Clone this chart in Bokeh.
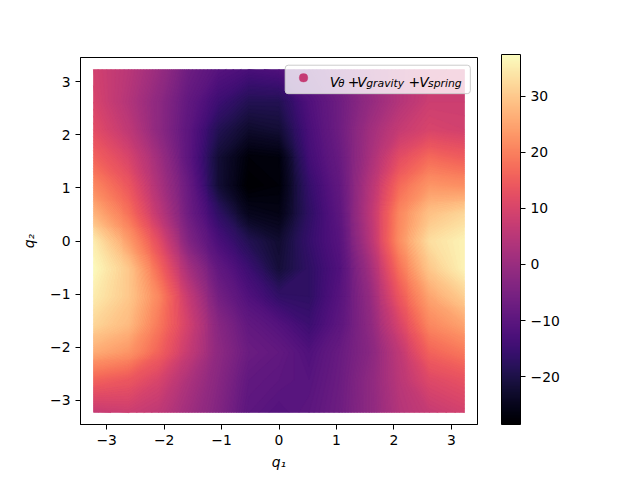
import numpy as np
from bokeh.plotting import figure
from bokeh.models import (LinearColorMapper, ColorBar, FixedTicker, Range1d, Label,
                          ColumnDataSource, BoxAnnotation)
from bokeh.palettes import Magma256
from bokeh.embed import file_html
from bokeh.resources import INLINE

# grid coordinates (radians)
q1_vals = [-3.1416, -2.618, -2.0944, -1.5708, -1.0472, -0.5236, 0.0,
           0.5236, 1.0472, 1.5708, 2.0944, 2.618, 3.1416]
q2_vals = [-3.1416, -2.618, -2.0944, -1.5708, -1.0472, -0.5236, 0.0,
           0.5236, 1.0472, 1.5708, 2.0944, 2.618, 3.1416]

# potential V_theta + V_gravity + V_spring, rows = q2 (bottom -> top), cols = q1
row_q2_m3_14 = [7, 8, 6, 1, -4, -10, -11.5, -10, -7, -2, 4, 7, 9]
row_q2_m2_62 = [16, 14, 10, 3, -3, -9, -10, -11, -7.5, -2, 5, 11, 13]
row_q2_m2_09 = [26, 23, 16, 7, -2, -7.5, -9, -12, -8, -3, 6, 16, 19]
row_q2_m1_57 = [32, 28, 19, 9, -3, -9, -11.5, -15, -10, -2, 10, 21, 25]
row_q2_m1_05 = [35, 30, 21, 7, -6, -12, -16.5, -17, -11, -1, 14, 25, 31]
row_q2_m0_52 = [37, 30, 17, 2, -9, -15, -21.5, -17, -12, 1, 18, 30, 36]
row_q2_0_00 = [35, 24, 12, -4, -13, -19, -22.5, -16, -11, 4, 22, 33, 36]
row_q2_p0_52 = [27, 18, 6, -7, -17, -25, -26, -17, -10, 5, 21, 29, 32]
row_q2_p1_05 = [21, 14, 3, -8, -22, -28.5, -27.5, -16, -9, 4, 17, 23, 22]
row_q2_p1_57 = [16, 10, 1, -10, -22, -27.5, -27, -14, -8, 2, 12, 17, 15]
row_q2_p2_09 = [12, 6, -2, -10, -19, -23, -22, -13, -7, 1, 7, 10, 9]
row_q2_p2_62 = [10, 4, -2, -9, -15, -19, -19, -12, -7, -1, 4, 8, 8]
row_q2_p3_14 = [9, 5, 0, -7, -11, -13, -12, -9, -5, 0, 4, 7, 8]

V = np.array([row_q2_m3_14, row_q2_m2_62, row_q2_m2_09, row_q2_m1_57,
              row_q2_m1_05, row_q2_m0_52, row_q2_0_00, row_q2_p0_52,
              row_q2_p1_05, row_q2_p1_57, row_q2_p2_09, row_q2_p2_62,
              row_q2_p3_14], dtype=float)

cbar_ticks = [-20, -10, 0, 10, 20, 30]
axis_ticks = [-3, -2, -1, 0, 1, 2, 3]

FONT = "DejaVu Sans"
FS = "13.9px"
SUB = "10.8px"

vmin, vmax = -28.5, 37.4
mapper = LinearColorMapper(palette=Magma256, low=vmin, high=vmax)


def magma(v):
    i = int(round((v - vmin) / (vmax - vmin) * 255))
    return Magma256[max(0, min(255, i))]


def neg(t):
    return ("\u2212" + str(-t)) if t < 0 else str(t)


p = figure(width=632, height=472,
           x_range=Range1d(-3.456, 3.456), y_range=Range1d(-3.456, 3.456),
           output_backend="svg", toolbar_location=None,
           min_border_left=80, min_border_top=57, min_border_bottom=45,
           min_border_right=155)
p.grid.visible = False
p.outline_line_color = "black"
p.outline_line_width = 1
p.background_fill_color = "white"
p.border_fill_color = "white"

pad = 0.09  # marker overhang around the outermost samples
x_lo, x_hi = q1_vals[0] - pad, q1_vals[-1] + pad
y_lo, y_hi = q2_vals[0] - pad, q2_vals[-1] + pad

# coarse backing of the sampled values (hides anti-aliasing seams)
p.image(image=[V], x=x_lo, y=y_lo, dw=x_hi - x_lo, dh=y_hi - y_lo,
        color_mapper=mapper)

# the sampled points themselves
Q1, Q2 = np.meshgrid(np.array(q1_vals), np.array(q2_vals))
src = ColumnDataSource(dict(q1=Q1.ravel(), q2=Q2.ravel(), v=V.ravel()))
p.scatter(x="q1", y="q2", source=src, marker="circle", size=8,
          fill_color={"field": "v", "transform": mapper},
          line_color={"field": "v", "transform": mapper})

# smooth field: filled contours with many levels
gx = np.array(q1_vals, dtype=float)
gy = np.array(q2_vals, dtype=float)
gx[0], gx[-1] = x_lo, x_hi
gy[0], gy[-1] = y_lo, y_hi
levels = np.arange(-29.0, 38.5, 0.5)
mids = (levels[:-1] + levels[1:]) / 2
p.contour(x=gx, y=gy, z=V, levels=levels,
          fill_color=[magma(m) for m in mids],
          line_color=[magma(l) for l in levels], line_width=0.8)

for ax in (p.xaxis, p.yaxis):
    ax.ticker = FixedTicker(ticks=axis_ticks)
    ax.major_label_overrides = {t: neg(t) for t in axis_ticks}
    ax.axis_line_color = "black"
    ax.major_tick_line_color = "black"
    ax.major_tick_out = 5
    ax.major_tick_in = 0
    ax.minor_tick_line_color = None
    ax.major_label_text_font = FONT
    ax.major_label_text_font_size = FS
    ax.major_label_text_color = "black"
    ax.major_label_standoff = 5
    ax.axis_label_text_font = FONT
    ax.axis_label_text_font_size = FS
    ax.axis_label_text_font_style = "italic"
    ax.axis_label_text_color = "black"
p.xaxis.axis_label = "q\u2081"
p.yaxis.axis_label = "q\u2082"
p.xaxis.axis_label_standoff = 6
p.yaxis.axis_label_standoff = 10

cb = ColorBar(color_mapper=mapper, ticker=FixedTicker(ticks=cbar_ticks),
              major_label_overrides={t: neg(t) for t in cbar_ticks},
              width=19, height=370, padding=0, margin=0, location=(24, 0),
              bar_line_color="black", bar_line_width=1,
              major_tick_line_color="black", major_tick_out=5, major_tick_in=0,
              minor_tick_line_color=None, label_standoff=5,
              major_label_text_font=FONT, major_label_text_font_size=FS,
              major_label_text_color="black", background_fill_color=None)
p.add_layout(cb, "right")


def dx(px):
    return (px - 278.8) / 57.4


def dy(py):
    return (242.5 - py) / 53.4


# legend frame
p.add_layout(BoxAnnotation(left=dx(285), right=dx(470), top=dy(65.7), bottom=dy(94.3),
                           fill_color="white", fill_alpha=0.8,
                           line_color="#cccccc", line_width=1, line_alpha=1.0,
                           border_radius=3))
# legend key: round marker in the colour of the first sample
key_c = magma(V[0][0])
kr = 4.3
p.add_layout(BoxAnnotation(left=dx(303.3 - kr), right=dx(303.3 + kr),
                           top=dy(78.4 - kr), bottom=dy(78.4 + kr),
                           fill_color=key_c, fill_alpha=1.0,
                           line_color=key_c, line_width=1, border_radius=4))

pieces = [
    ("V", 329.5, 82.2, FS),
    ("\u03b8", 338.0, 84.6, "10.2px"),
    ("+", 347.4, 82.2, FS),
    ("V", 356.8, 82.2, FS),
    ("gravity", 366.0, 84.6, SUB),
    ("+", 408.2, 82.2, FS),
    ("V", 419.0, 82.2, FS),
    ("spring", 427.8, 84.6, SUB),
]
for txt, px, py, fs in pieces:
    style = "normal" if txt == "+" else "italic"
    p.add_layout(Label(x=dx(px), y=dy(py), text=txt, text_font=FONT,
                       text_font_size=fs, text_font_style=style,
                       text_baseline="alphabetic", text_align="left",
                       text_color="black"))

open("out.html", "w").write(file_html(p, INLINE))
